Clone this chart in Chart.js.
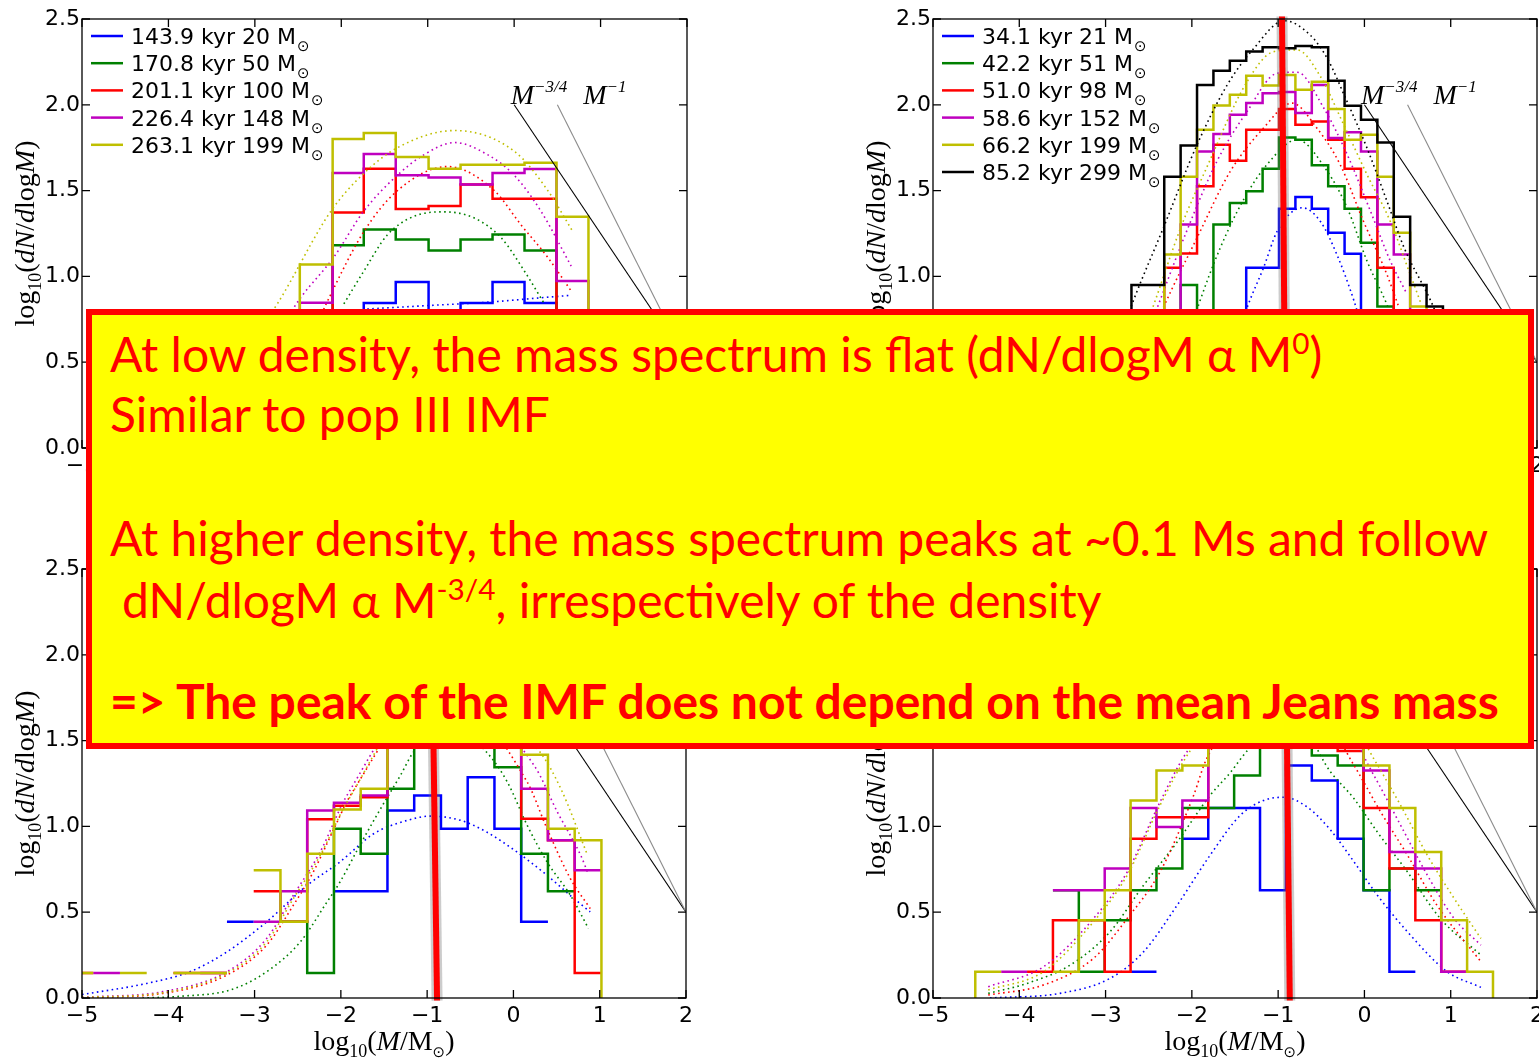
<!DOCTYPE html>
<html>
<head>
<meta charset="utf-8">
<script src="https://cdn.jsdelivr.net/npm/chart.js@4.4.1/dist/chart.umd.min.js"></script>
<style>
  html, body { margin:0; padding:0; background:#fff; width:1539px; height:1059px; overflow:hidden; position:relative; }
  canvas { position:absolute; }
  #box { position:absolute; left:86px; top:309px; width:1448px; height:440px; box-sizing:border-box; border:6px solid #ff0000; background:#ffff00; }
  .ln { position:absolute; white-space:nowrap; color:#ff0000; font-family:Lato, "Open Sans", sans-serif; font-size:48px; line-height:1; }
  .ln sup { font-size:0.62em; vertical-align:0.6em; line-height:0; }
  .bold { font-weight:bold; }
</style>
</head>
<body>
<canvas id="tl" width="770" height="530" style="left:0;top:0"></canvas>
<canvas id="tr" width="760" height="530" style="left:851px;top:0"></canvas>
<canvas id="bl" width="770" height="529" style="left:0;top:530px"></canvas>
<canvas id="br" width="760" height="529" style="left:851px;top:530px"></canvas>

<div id="box"></div>
<div class="ln" style="left:110px;top:330px">At low density, the mass spectrum is flat (dN/dlogM &alpha; M<sup>0</sup>)</div>
<div class="ln" style="left:110px;top:390px">Similar to pop III IMF</div>
<div class="ln" style="left:110px;top:514px">At higher density, the mass spectrum peaks at ~0.1 Ms and follow</div>
<div class="ln" style="left:122px;top:576px">dN/dlogM &alpha; M<sup>-3/4</sup>, irrespectively of the density</div>
<div class="ln bold" style="left:110px;top:677px">=&gt; The peak of the IMF does not depend on the mean Jeans mass</div>

<script>
// axis ticks
const xTicks = [-5, -4, -3, -2, -1, 0, 1, 2];
const yTicks = [0, 0.5, 1, 1.5, 2, 2.5];

// legend labels (mass in Msun)
const legendTL = ["143.9 kyr 20", "170.8 kyr 50", "201.1 kyr 100", "226.4 kyr 148", "263.1 kyr 199"];
const legendTR = ["34.1 kyr 21", "42.2 kyr 51", "51.0 kyr 98", "58.6 kyr 152", "66.2 kyr 199", "85.2 kyr 299"];

// reference slopes M^-3/4 and M^-1
const slopeThreeQuarter = [[0, 2.0], [2, 0.5]];
const slopeOne = [[0.5, 2.0], [2, 0.5]];

// red peak markers
const peakTR = [[-0.955, 2.515], [-0.925, 0.5]];
const peakBL = [[-0.93, 1.6], [-0.885, -0.015]];
const peakBR = [[-0.90, 1.6], [-0.865, -0.015]];

// ---- top left: bin edges + log10(dN/dlogM) per bin
const tlEdges = [-2.85, -2.48, -2.10, -1.74, -1.37, -0.99, -0.62, -0.25, 0.12, 0.49, 0.86, 1.23];
const tlBlue    = [null, null, 0.65, 0.845, 0.967, 0.70, 0.845, 0.967, 0.845, 0.65, null];
const tlGreen   = [null, 0.60, 1.182, 1.273, 1.215, 1.151, 1.215, 1.244, 1.151, 0.60, null];
const tlRed     = [null, 0.65, 1.372, 1.628, 1.393, 1.41, 1.535, 1.452, 1.452, 0.70, null];
const tlMagenta = [0.50, 0.847, 1.603, 1.713, 1.589, 1.576, 1.535, 1.603, 1.626, 0.973, 0.50];
const tlYellow  = [0.45, 1.07, 1.80, 1.835, 1.696, 1.628, 1.65, 1.65, 1.663, 1.347, 0.60];
const tlFitBlue    = [[-1.70, 0.81], [-1.0, 0.83], [-0.3, 0.85], [0.3, 0.875], [0.66, 0.89]];
const tlFitGreen   = [[-1.97, 0.84], [-1.74, 1.03], [-1.47, 1.24], [-1.16, 1.35], [-0.81, 1.376], [-0.46, 1.34], [-0.15, 1.225], [0.12, 1.03], [0.35, 0.84]];
const tlFitRed     = [[-2.30, 0.70], [-2.14, 0.876], [-1.74, 1.26], [-1.35, 1.50], [-0.77, 1.64], [-0.23, 1.50], [0.08, 1.30], [0.39, 1.11], [0.66, 0.915]];
const tlFitMagenta = [[-2.70, 0.70], [-2.47, 0.876], [-2.09, 1.11], [-1.74, 1.38], [-1.35, 1.59], [-1.04, 1.71], [-0.69, 1.78], [-0.31, 1.71], [0.0, 1.59], [0.31, 1.38], [0.66, 1.06]];
const tlFitYellow  = [[-3.00, 0.65], [-2.74, 0.84], [-2.12, 1.38], [-1.74, 1.60], [-1.35, 1.75], [-0.69, 1.85], [0.0, 1.73], [0.39, 1.50], [0.68, 1.26]];

// ---- top right
const trEdges = [-2.89, -2.70, -2.51, -2.32, -2.13, -1.94, -1.75, -1.56, -1.37, -1.18, -0.99, -0.80, -0.61, -0.42, -0.23, -0.04, 0.15, 0.34, 0.53, 0.72, 0.91, 1.10];
const trBlue    = [null, null, null, null, null, null, null, 0.7, 1.05, 1.05, 1.394, 1.463, 1.394, 1.254, 1.132, 0.7, null, null, null, null, null];
const trGreen   = [null, null, null, 0.6, 0.95, 0.7, 1.302, 1.428, 1.496, 1.628, 1.81, 1.797, 1.647, 1.525, 1.394, 1.196, 0.824, 0.6, null, null, null];
const trRed     = [null, null, 0.7, 1.05, 1.134, 1.525, 1.767, 1.674, 1.855, 1.855, 1.975, 1.884, 1.903, 1.797, 1.628, 1.461, 1.05, 0.7, null, null, null];
const trMagenta = [null, null, null, 0.7, 1.302, 1.728, 1.83, 1.942, 2.01, 2.068, 2.074, 1.952, 2.116, 1.806, 1.84, 1.728, 1.302, 1.128, 0.7, null, null];
const trYellow  = [null, null, 0.7, 1.128, 1.58, 1.855, 1.996, 2.058, 2.169, 2.112, 2.174, 2.087, 2.135, 1.975, 1.797, 1.826, 1.58, 1.254, 0.824, 0.6, null];
const trBlack   = [0.6, 0.95, 0.95, 1.58, 1.763, 2.116, 2.198, 2.256, 2.31, 2.335, 2.329, 2.343, 2.335, 2.14, 1.994, 1.913, 1.781, 1.347, 0.95, 0.824, 0.6];
const trFitBlue    = [[-1.50, 0.60], [-1.36, 0.818], [-1.17, 1.05], [-1.01, 1.264], [-0.72, 1.40], [-0.51, 1.32], [-0.32, 1.128], [-0.12, 0.856], [0.0, 0.65]];
const trFitGreen   = [[-2.10, 0.55], [-1.92, 0.837], [-1.67, 1.167], [-1.40, 1.448], [-1.13, 1.651], [-0.78, 1.797], [-0.43, 1.612], [-0.20, 1.40], [0.03, 1.089], [0.26, 0.837], [0.40, 0.65]];
const trFitRed     = [[-2.55, 0.55], [-2.33, 0.818], [-1.94, 1.225], [-1.555, 1.612], [-1.17, 1.864], [-0.84, 2.01], [-0.55, 1.864], [-0.28, 1.65], [-0.01, 1.32], [0.26, 1.012], [0.40, 0.82]];
const trFitMagenta = [[-2.60, 0.55], [-2.40, 0.818], [-2.06, 1.264], [-1.71, 1.67], [-1.36, 1.961], [-1.01, 2.184], [-0.78, 2.19], [-0.47, 1.98], [-0.20, 1.71], [0.07, 1.38], [0.30, 1.09], [0.48, 0.91]];
const trFitYellow  = [[-2.65, 0.55], [-2.44, 0.837], [-2.13, 1.283], [-1.83, 1.632], [-1.36, 2.135], [-1.05, 2.31], [-0.78, 2.32], [-0.51, 2.165], [-0.24, 1.884], [0.03, 1.593], [0.30, 1.32], [0.53, 1.012], [0.65, 0.85]];
const trFitBlack   = [[-2.90, 0.55], [-2.68, 0.856], [-2.33, 1.283], [-1.94, 1.767], [-1.59, 2.116], [-1.28, 2.33], [-0.93, 2.49], [-0.63, 2.407], [-0.43, 2.27], [-0.22, 2.04], [0.03, 1.748], [0.26, 1.44], [0.46, 1.167], [0.77, 0.856], [0.90, 0.70]];

// ---- bottom left
const blEdges = [-5.18, -4.87, -4.56, -4.25, -3.94, -3.63, -3.32, -3.01, -2.70, -2.39, -2.08, -1.77, -1.46, -1.15, -0.84, -0.53, -0.22, 0.09, 0.40, 0.71, 1.02];
const blBlue    = [null, null, null, null, null, null, 0.444, null, null, null, 0.622, 0.622, 1.093, 1.18, 0.986, 1.287, 0.986, 0.444, null, null];
const blGreen   = [null, null, null, null, null, null, null, null, 0.444, 0.145, 0.986, 0.841, 1.219, 1.6, 1.75, 1.65, 1.345, 0.841, 0.622, null];
const blRed     = [0.145, null, null, null, 0.145, 0.145, null, 0.622, 0.444, 1.041, 1.12, 1.17, 1.55, 1.75, 1.8, 1.7, 1.5, 1.045, 0.919, 0.145];
const blMagenta = [null, 0.145, null, null, null, 0.145, null, 0.444, 0.622, 1.093, 1.138, 1.18, 1.6, 1.8, 1.85, 1.8, 1.6, 1.219, 0.919, 0.744];
const blYellow  = [0.145, null, 0.145, null, 0.145, 0.145, null, 0.744, 0.444, 0.841, 1.099, 1.219, 1.65, 1.85, 1.9, 1.85, 1.65, 1.417, 0.986, 0.919];
const blFitBlue    = [[-5.0, 0.02], [-4.25, 0.085], [-3.75, 0.153], [-3.32, 0.269], [-2.86, 0.444], [-2.39, 0.657], [-2.01, 0.793], [-1.62, 0.957], [-1.23, 1.035], [-0.96, 1.06], [-0.61, 1.035], [-0.31, 0.967], [0.04, 0.851], [0.39, 0.715], [0.70, 0.58], [0.89, 0.502]];
const blFitGreen   = [[-4.30, 0.0], [-3.86, 0.01], [-3.28, 0.047], [-2.86, 0.153], [-2.47, 0.327], [-2.16, 0.56], [-2.01, 0.676], [-1.78, 0.89], [-1.54, 1.103], [-1.31, 1.297], [-1.16, 1.432], [-0.75, 1.60], [-0.31, 1.432], [-0.07, 1.258], [0.16, 1.006], [0.39, 0.793], [0.66, 0.599], [0.87, 0.405]];
const blFitRed     = [[-5.0, 0.0], [-4.06, 0.027], [-3.32, 0.134], [-2.86, 0.308], [-2.55, 0.541], [-2.32, 0.734], [-2.08, 0.986], [-1.89, 1.18], [-0.85, 1.80], [0.16, 1.258], [0.39, 0.986], [0.66, 0.696], [0.89, 0.521]];
const blFitMagenta = [[-5.0, 0.004], [-4.06, 0.037], [-3.32, 0.153], [-2.86, 0.347], [-2.55, 0.599], [-2.24, 0.851], [-1.93, 1.18], [-0.85, 1.85], [0.24, 1.355], [0.51, 1.083], [0.78, 0.831], [0.87, 0.72]];
const blFitYellow  = [[-5.0, 0.003], [-4.06, 0.031], [-3.32, 0.145], [-2.86, 0.327], [-2.55, 0.58], [-2.24, 0.831], [-1.93, 1.14], [-0.80, 1.90], [0.31, 1.432], [0.55, 1.219], [0.86, 0.831]];

// ---- bottom right
const brEdges = [-4.51, -4.21, -3.91, -3.61, -3.31, -3.01, -2.71, -2.41, -2.11, -1.81, -1.51, -1.21, -0.91, -0.61, -0.31, -0.01, 0.29, 0.59, 0.89, 1.19, 1.49];
const brBlue    = [null, null, null, null, null, null, 0.153, null, 0.928, 1.107, 1.107, 0.628, 1.355, 1.267, 0.928, 0.628, 0.153, null, null, null];
const brGreen   = [null, null, null, 0.628, 0.153, 0.453, 0.628, 0.754, 1.107, 1.107, 1.297, 1.55, 1.6, 1.413, 1.355, 0.628, 0.754, 0.628, null, null];
const brRed     = [null, null, 0.153, 0.453, 0.453, 0.153, 0.928, 1.054, 1.054, 1.5, 1.7, 1.8, 1.85, 1.7, 1.44, 1.107, 0.754, 0.453, 0.153, null];
const brMagenta = [null, 0.153, null, 0.628, 0.628, 0.754, 1.107, 0.996, 1.151, 1.55, 1.75, 1.9, 1.9, 1.75, 1.55, 1.326, 0.851, 0.754, 0.153, null];
const brYellow  = [0.153, null, null, 0.153, 0.453, 0.628, 1.151, 1.326, 1.355, 1.6, 1.85, 2.0, 2.0, 1.85, 1.6, 1.355, 1.107, 0.851, 0.453, 0.153];
const brFitBlue    = [[-4.34, 0.0], [-3.53, 0.027], [-2.95, 0.114], [-2.56, 0.269], [-2.17, 0.541], [-1.79, 0.831], [-1.44, 1.064], [-1.17, 1.151], [-0.94, 1.17], [-0.66, 1.112], [-0.39, 0.977], [-0.12, 0.793], [0.15, 0.599], [0.50, 0.385], [0.96, 0.153], [1.35, 0.062]];
const brFitGreen   = [[-4.36, 0.027], [-3.91, 0.085], [-3.41, 0.192], [-2.95, 0.385], [-2.56, 0.657], [-2.17, 0.909], [-1.79, 1.18], [-1.55, 1.316], [-1.36, 1.44], [-0.85, 1.65], [-0.39, 1.316], [-0.12, 1.161], [0.15, 0.967], [0.50, 0.734], [0.88, 0.463], [1.35, 0.25]];
const brFitRed     = [[-4.36, 0.017], [-3.72, 0.076], [-3.14, 0.231], [-2.75, 0.463], [-2.37, 0.734], [-1.98, 1.18], [-1.83, 1.393], [-0.90, 1.95], [-0.12, 1.355], [0.19, 1.083], [0.50, 0.831], [0.84, 0.541], [1.35, 0.211]];
const brFitMagenta = [[-4.36, 0.066], [-3.72, 0.182], [-3.14, 0.463], [-2.75, 0.734], [-2.37, 1.141], [-2.06, 1.432], [-0.85, 2.10], [0.11, 1.297], [0.42, 1.006], [0.73, 0.715], [1.04, 0.463], [1.35, 0.308]];
const brFitYellow  = [[-4.36, 0.047], [-3.72, 0.153], [-3.14, 0.444], [-2.75, 0.715], [-2.37, 1.122], [-2.02, 1.44], [-0.80, 2.15], [0.11, 1.393], [0.42, 1.122], [0.73, 0.831], [1.04, 0.58], [1.35, 0.347]];

const C = { blue: "#0000ff", green: "#008000", red: "#ff0000", magenta: "#bf00bf", yellow: "#bfbf00", black: "#000000" };

const RM = '28px "Liberation Serif"';
const IT = 'italic 28px "Liberation Serif"';
const SUB = '18px "Liberation Serif"';
const yTitle = [["log", RM], ["10", SUB, 7], ["(", RM], ["dN", IT], ["/", RM], ["d", IT], ["log", RM], ["M", IT], [")", RM]];
const xTitle = [["log", RM], ["10", SUB, 7], ["(", RM], ["M", IT], ["/", RM], ["M", RM], ["\u2299", '15px "DejaVu Sans"', 7], [")", RM]];

function richWidth(ctx, parts) {
  let w = 0;
  for (const p of parts) { ctx.font = p[1]; w += ctx.measureText(p[0]).width; }
  return w;
}
function richDraw(ctx, parts, x, y) {
  for (const p of parts) {
    ctx.font = p[1];
    ctx.fillText(p[0], x, y + (p[2] || 0));
    x += ctx.measureText(p[0]).width;
  }
}

// turn bin edges + values into step points, nulls break the line
function stepPoints(edges, vals, close) {
  const pts = [];
  if (close && vals[0] !== null) pts.push({ x: edges[0], y: 0 });
  for (let i = 0; i < vals.length; i++) {
    const v = vals[i];
    if (v === null) {
      if (pts.length && pts[pts.length - 1].y !== null) pts.push({ x: edges[i], y: null });
      continue;
    }
    pts.push({ x: edges[i], y: v });
    const next = vals[i + 1];
    if (next === null || next === undefined) pts.push({ x: edges[i + 1], y: v });
  }
  if (close && vals[vals.length - 1] !== null) pts.push({ x: edges[vals.length], y: 0 });
  return pts;
}
const toXY = (arr) => arr.map((p) => ({ x: p[0], y: p[1] }));

function makePanel(id, edges, series, pad, legend, peak) {
  const datasets = [];
  series.forEach((s) => {
    datasets.push({
      data: stepPoints(edges, s.vals, s.close),
      borderColor: s.color, borderWidth: 2.5, stepped: "before",
      pointRadius: 0, spanGaps: false, fill: false,
    });
    datasets.push({
      data: toXY(s.fit),
      borderColor: s.color, borderWidth: 1.6, borderDash: [1.6, 3.4],
      pointRadius: 0, cubicInterpolationMode: "monotone", fill: false,
    });
  });
  datasets.push({ data: toXY(slopeThreeQuarter), borderColor: "#000000", borderWidth: 1.1, pointRadius: 0 });
  datasets.push({ data: toXY(slopeOne), borderColor: "#8c8c8c", borderWidth: 1.1, pointRadius: 0 });
  if (peak) {
    datasets.push({ data: toXY(peak), borderColor: "rgba(110,110,110,0.35)", borderWidth: 11, pointRadius: 0, clip: false });
    datasets.push({ data: toXY(peak), borderColor: "#ff0000", borderWidth: 6, pointRadius: 0, clip: false });
  }
  // later datasets on top
  datasets.forEach((d, i) => { d.order = datasets.length - i; });

  const deco = {
    id: "deco",
    afterDatasetsDraw(chart) {
      const { ctx, chartArea: a, scales: { x, y } } = chart;
      ctx.save();
      ctx.strokeStyle = "#000";
      ctx.lineWidth = 1.3;
      ctx.strokeRect(a.left, a.top, a.right - a.left, a.bottom - a.top);
      ctx.beginPath();
      xTicks.forEach((v) => {
        const px = x.getPixelForValue(v);
        ctx.moveTo(px, a.bottom); ctx.lineTo(px, a.bottom - 8);
        ctx.moveTo(px, a.top); ctx.lineTo(px, a.top + 8);
      });
      yTicks.forEach((v) => {
        const py = y.getPixelForValue(v);
        ctx.moveTo(a.left, py); ctx.lineTo(a.left + 8, py);
        ctx.moveTo(a.right, py); ctx.lineTo(a.right - 8, py);
      });
      ctx.stroke();
      ctx.restore();
    },
    afterDraw(chart) {
      const { ctx, chartArea: a, scales: { x, y } } = chart;
      ctx.save();
      ctx.fillStyle = "#000";
      ctx.textBaseline = "alphabetic";
      // slope labels
      const SUP = 'italic 17px "Liberation Serif"';
      let lx = x.getPixelForValue(-0.04), ly = y.getPixelForValue(2.0) - 1;
      richDraw(ctx, [["M", IT], ["\u22123/4", SUP, -12]], lx, ly);
      lx = x.getPixelForValue(0.8);
      richDraw(ctx, [["M", IT], ["\u22121", SUP, -12]], lx, ly);
      // y title
      const yw = richWidth(ctx, yTitle);
      ctx.translate(a.left - 48, (a.top + a.bottom) / 2);
      ctx.rotate(-Math.PI / 2);
      richDraw(ctx, yTitle, -yw / 2, 0);
      ctx.setTransform(1, 0, 0, 1, 0, 0);
      // x title
      const xw = richWidth(ctx, xTitle);
      richDraw(ctx, xTitle, (a.left + a.right) / 2 - xw / 2, a.bottom + 52);
      // legend
      if (legend) {
        legend.forEach((lab, i) => {
          const cy = a.top + 17 + i * 27.2;
          ctx.strokeStyle = series[i].color;
          ctx.lineWidth = 2.5;
          ctx.beginPath();
          ctx.moveTo(a.left + 9, cy); ctx.lineTo(a.left + 41, cy);
          ctx.stroke();
          ctx.font = '22px "DejaVu Sans"';
          const t = lab + " M";
          ctx.fillText(t, a.left + 49, cy + 8);
          const w = ctx.measureText(t).width;
          ctx.font = '15px "DejaVu Sans"';
          ctx.fillText("\u2299", a.left + 49 + w + 1, cy + 15);
        });
      }
      ctx.restore();
    },
  };

  new Chart(document.getElementById(id), {
    type: "line",
    data: { datasets },
    options: {
      responsive: false,
      animation: false,
      events: [],
      layout: { padding: pad },
      plugins: { legend: { display: false }, tooltip: { enabled: false } },
      scales: {
        x: {
          type: "linear", min: -5, max: 2,
          afterBuildTicks: (s) => { s.ticks = xTicks.map((v) => ({ value: v })); },
          afterFit: (s) => { s.height = 40; },
          grid: { display: false, drawTicks: false },
          border: { display: false },
          ticks: {
            color: "#000", padding: 5, maxRotation: 0,
            font: { family: "DejaVu Sans", size: 22 },
            callback: (v) => String(v).replace("-", "\u2212"),
          },
        },
        y: {
          type: "linear", min: 0, max: 2.5,
          afterBuildTicks: (s) => { s.ticks = yTicks.map((v) => ({ value: v })); },
          afterFit: (s) => { s.width = 82; },
          grid: { display: false, drawTicks: false },
          border: { display: false },
          ticks: {
            color: "#000", padding: 2,
            font: { family: "DejaVu Sans", size: 22 },
            callback: (v) => v.toFixed(1),
          },
        },
      },
    },
    plugins: [deco],
  });
}

makePanel("tl", tlEdges, [
  { vals: tlBlue, fit: tlFitBlue, color: C.blue },
  { vals: tlGreen, fit: tlFitGreen, color: C.green },
  { vals: tlRed, fit: tlFitRed, color: C.red },
  { vals: tlMagenta, fit: tlFitMagenta, color: C.magenta },
  { vals: tlYellow, fit: tlFitYellow, color: C.yellow },
], { left: 0, top: 19, right: 83, bottom: 42 }, legendTL, null);

makePanel("tr", trEdges, [
  { vals: trBlue, fit: trFitBlue, color: C.blue },
  { vals: trGreen, fit: trFitGreen, color: C.green },
  { vals: trRed, fit: trFitRed, color: C.red },
  { vals: trMagenta, fit: trFitMagenta, color: C.magenta },
  { vals: trYellow, fit: trFitYellow, color: C.yellow },
  { vals: trBlack, fit: trFitBlack, color: C.black },
], { left: 0, top: 19, right: 74, bottom: 42 }, legendTR, peakTR);

makePanel("bl", blEdges, [
  { vals: blBlue, fit: blFitBlue, color: C.blue },
  { vals: blGreen, fit: blFitGreen, color: C.green },
  { vals: blRed, fit: blFitRed, color: C.red },
  { vals: blMagenta, fit: blFitMagenta, color: C.magenta },
  { vals: blYellow, fit: blFitYellow, color: C.yellow, close: true },
], { left: 0, top: 39, right: 84, bottom: 21 }, null, peakBL);

makePanel("br", brEdges, [
  { vals: brBlue, fit: brFitBlue, color: C.blue },
  { vals: brGreen, fit: brFitGreen, color: C.green },
  { vals: brRed, fit: brFitRed, color: C.red },
  { vals: brMagenta, fit: brFitMagenta, color: C.magenta },
  { vals: brYellow, fit: brFitYellow, color: C.yellow, close: true },
], { left: 0, top: 39, right: 74, bottom: 21 }, null, peakBR);
</script>
</body>
</html>
